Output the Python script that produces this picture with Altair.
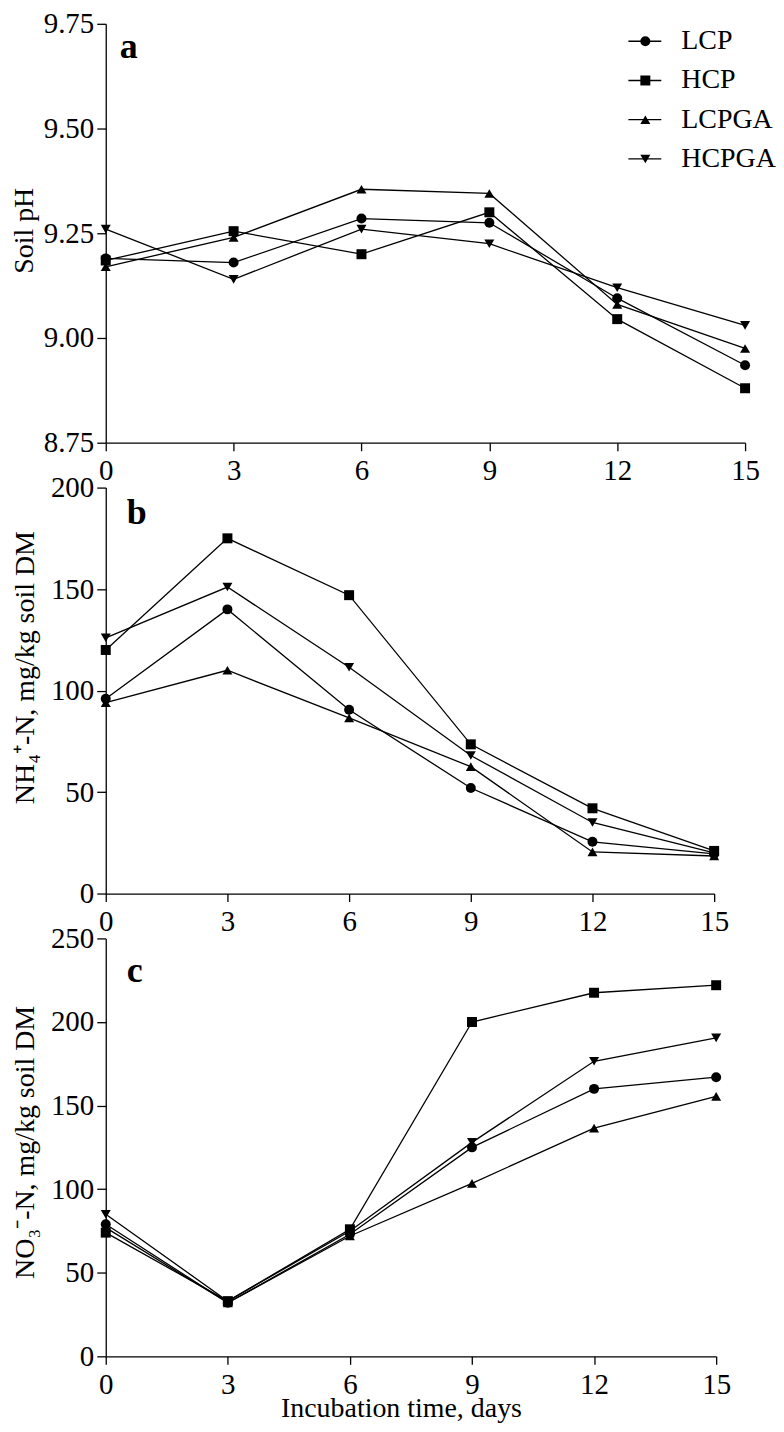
import altair as alt
import pandas as pd

# ---------------- data ----------------
days = [0, 3, 6, 9, 12, 15]
series = ["LCP", "HCP", "LCPGA", "HCPGA"]
shapes = ["circle", "square", "triangle-up", "triangle-down"]

ph_LCP = [9.19, 9.18, 9.285, 9.275, 9.095, 8.935]
ph_HCP = [9.185, 9.255, 9.20, 9.30, 9.045, 8.88]
ph_LCPGA = [9.17, 9.24, 9.355, 9.345, 9.08, 8.975]
ph_HCPGA = [9.26, 9.14, 9.26, 9.225, 9.12, 9.03]

nh4_LCP = [96, 140, 90.5, 52, 25.5, 19.5]
nh4_HCP = [120, 175, 147, 73.5, 42, 21]
nh4_LCPGA = [94, 110, 86.5, 62.5, 20.5, 18.5]
nh4_HCPGA = [126, 151, 111.5, 68, 35, 20]

no3_LCP = [79, 32, 73, 125, 160, 167]
no3_HCP = [74, 33, 76, 200, 217.5, 222]
no3_LCPGA = [77, 32, 72, 103.5, 136.5, 155.5]
no3_HCPGA = [85, 33, 75, 128, 176.5, 190.5]

ph_ticks = [8.75, 9.00, 9.25, 9.50, 9.75]
nh4_ticks = [0, 50, 100, 150, 200]
no3_ticks = [0, 50, 100, 150, 200, 250]

FONT = "Liberation Serif"


def long_df(vals):
    rows = []
    for s, v in zip(series, vals):
        for d, y in zip(days, v):
            rows.append({"day": d, "value": y, "series": s})
    return pd.DataFrame(rows)


shape_scale = alt.Scale(domain=series, range=shapes)


def panel(df, domain, ticks, fmt, ytitle, ytx, yty, w, h, letter, lx, ly,
          xtitle=None, legend=False):
    if xtitle:
        xaxis = alt.Axis(values=days, labelFlush=False, tickSize=8, labelPadding=6,
                         title=xtitle, titleX=296, titleY=38, titleBaseline="top",
                         titleAlign="center")
    else:
        xaxis = alt.Axis(values=days, labelFlush=False, tickSize=8, labelPadding=6,
                         title=None)
    x = alt.X("day:Q", scale=alt.Scale(domain=[0, 15], nice=False, zero=False), axis=xaxis)
    y = alt.Y("value:Q", scale=alt.Scale(domain=domain, nice=False, zero=False),
              axis=alt.Axis(values=ticks, format=fmt, title=ytitle, titleX=ytx, titleY=yty,
                            titleAngle=270, titleBaseline="bottom", titleAlign="center",
                            tickSize=9, labelPadding=3))
    base = alt.Chart(df)
    lines = base.mark_line(color="black", strokeWidth=1.3).encode(x=x, y=y, detail="series:N")
    points = base.mark_point(filled=True, size=100, color="black", opacity=1).encode(
        x=x, y=y, shape=alt.Shape("series:N", scale=shape_scale, legend=None))
    let = alt.Chart(pd.DataFrame({"t": [letter]})).mark_text(
        font=FONT, fontSize=36, fontWeight="bold", align="center", baseline="alphabetic",
        color="black").encode(x=alt.value(lx), y=alt.value(ly), text="t:N")
    main = alt.layer(lines, points, let)
    if legend:
        ldf = pd.DataFrame({"series": series})
        ly_enc = alt.Y("series:N", sort=series,
                       scale=alt.Scale(type="point", domain=series, range=[17.5, 135.5], padding=0),
                       axis=None)
        lb = alt.Chart(ldf)
        lrule = lb.mark_rule(color="black", strokeWidth=1.3).encode(
            x=alt.value(524), x2=alt.value(557), y=ly_enc)
        lpt = lb.mark_point(filled=True, size=100, color="black", opacity=1).encode(
            x=alt.value(541), y=ly_enc,
            shape=alt.Shape("series:N", scale=shape_scale, legend=None))
        ltxt = lb.mark_text(font=FONT, fontSize=28, align="left", baseline="middle",
                            color="black").encode(x=alt.value(577), y=ly_enc, text="series:N")
        leg = alt.layer(lrule, lpt, ltxt)
        ch = alt.layer(main, leg).resolve_scale(y="independent")
    else:
        ch = main
    return ch.properties(width=w, height=h)


pa = panel(long_df([ph_LCP, ph_HCP, ph_LCPGA, ph_HCPGA]), [8.75, 9.75], ph_ticks, ".2f",
           "Soil pH", -67, 207, 641, 420, "a", 23, 34.5, legend=True)
pb = panel(long_df([nh4_LCP, nh4_HCP, nh4_LCPGA, nh4_HCPGA]), [0, 200], nh4_ticks, "d",
           "NH\u2084\u207a-N, mg/kg soil DM", -66, 180, 610, 407, "b", 31, 36)
pc = panel(long_df([no3_LCP, no3_HCP, no3_LCPGA, no3_HCPGA]), [0, 250], no3_ticks, "d",
           "NO\u2083\u207b-N, mg/kg soil DM", -66, 204, 612, 419, "c", 29, 44,
           xtitle="Incubation time, days")

chart = (
    alt.vconcat(pa, pb, pc, spacing=45, bounds="flush")
    .properties(padding={"left": 3, "top": 0, "right": 0, "bottom": 0})
    .configure(font=FONT)
    .configure_view(strokeWidth=0)
    .configure_axis(domainColor="black", tickColor="black", labelColor="black",
                    titleColor="black", labelFont=FONT, titleFont=FONT, labelFontSize=29,
                    titleFontSize=28, titleFontWeight="normal", grid=False,
                    domainWidth=1.3, tickWidth=1.3)
)

chart.save("out.html", embed_options={"renderer": "svg", "actions": False})
